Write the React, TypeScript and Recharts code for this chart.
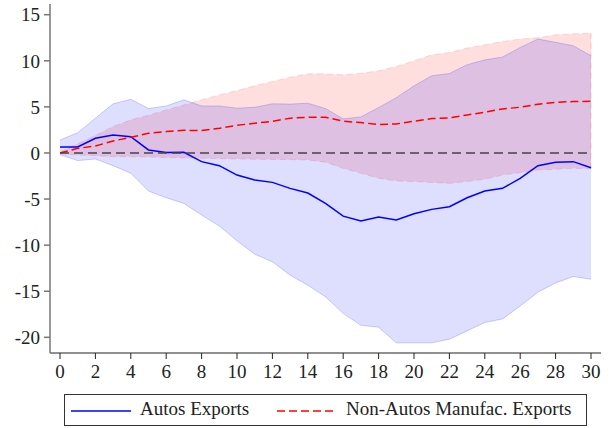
import React from 'react';
import {
  ComposedChart,
  Area,
  Line,
  XAxis,
  YAxis,
  ReferenceLine,
} from 'recharts';

// horizons 0..30
const horizons = Array.from({ length: 31 }, (_, i) => i);

const autosExports = [
  0.65, 0.65, 1.6, 1.96, 1.77, 0.33, 0.04, 0.07, -0.94, -1.38, -2.4, -2.93, -3.19, -3.84, -4.35, -5.47,
  -6.85, -7.39, -6.96, -7.28, -6.6, -6.12, -5.83, -4.86, -4.13, -3.84, -2.75, -1.38, -1.01, -0.94, -1.6,
];
const autosUpper = [
  1.41, 2.2, 3.77, 5.33, 5.83, 4.82, 5.1, 5.76, 5.1, 5.1, 4.86, 4.96, 5.33, 5.3, 5.4, 4.82,
  3.7, 3.91, 4.93, 6.0, 7.28, 8.37, 8.62, 9.57, 10.1, 10.4, 11.45, 12.36, 12.0, 11.63, 10.54,
];
const autosLower = [
  -0.2, -0.83, -0.65, -1.38, -2.2, -4.13, -4.86, -5.47, -6.74, -7.93, -9.53, -10.98, -11.8, -13.26, -14.35, -15.6,
  -17.4, -18.7, -18.9, -20.6, -20.6, -20.6, -20.2, -19.3, -18.4, -18.0, -16.6, -15.1, -14.1, -13.4, -13.7,
];

const nonAutosExports = [
  0, 0.5, 0.75, 1.3, 1.7, 2.14, 2.32, 2.46, 2.43, 2.68, 3.0, 3.22, 3.44, 3.77, 3.88, 3.88,
  3.44, 3.3, 3.08, 3.15, 3.44, 3.73, 3.8, 4.13, 4.42, 4.78, 4.96, 5.29, 5.5, 5.58, 5.61,
];
const nonAutosUpper = [
  0.1, 1.0, 1.9, 2.86, 3.59, 4.1, 4.67, 5.2, 5.76, 6.3, 6.77, 7.28, 7.75, 8.22, 8.59, 8.59,
  8.48, 8.66, 8.91, 9.38, 10.0, 10.65, 10.9, 11.38, 11.74, 12.1, 12.36, 12.5, 12.83, 12.93, 13.0,
];
const nonAutosLower = [
  -0.1, -0.22, -0.3, -0.4, -0.4, -0.45, -0.5, -0.55, -0.58, -0.62, -0.65, -0.68, -0.7, -0.73, -0.76, -1.0,
  -1.67, -2.2, -2.75, -3.04, -3.1, -3.2, -3.3, -3.1, -2.86, -2.4, -2.14, -1.85, -1.78, -1.67, -1.7,
];

const xTicks = [0, 2, 4, 6, 8, 10, 12, 14, 16, 18, 20, 22, 24, 26, 28, 30];
const yTicks = [-20, -15, -10, -5, 0, 5, 10, 15];

const data = horizons.map((h, i) => ({
  h,
  autos: autosExports[i],
  autosBand: [autosLower[i], autosUpper[i]],
  nonAutos: nonAutosExports[i],
  nonAutosBand: [nonAutosLower[i], nonAutosUpper[i]],
}));

const last = horizons.length - 1;

const FONT = 'Liberation Serif, DejaVu Serif, serif';
const tickStyle = { fontFamily: FONT, fontSize: 19, fill: '#222' };

export default function App() {
  return (
    <div style={{ position: 'absolute', left: 0, top: 0, width: 610, height: 428, background: '#fff' }}>
      <ComposedChart
        width={610}
        height={390}
        data={data}
        margin={{ top: 4, right: 9, left: 0, bottom: 0 }}
        style={{ fontFamily: FONT }}
      >
        <XAxis
          dataKey="h"
          type="number"
          domain={[-0.565, 30.565]}
          ticks={xTicks}
          allowDataOverflow
          height={37}
          tickSize={6}
          tickMargin={6}
          stroke="#222"
          tick={tickStyle}
        />
        <YAxis
          type="number"
          domain={[-21.7, 16.16]}
          ticks={yTicks}
          allowDataOverflow
          width={50}
          tickSize={6}
          tickMargin={4}
          stroke="#777"
          strokeWidth={1.5}
          tick={tickStyle}
        />
        <Area
          type="linear"
          dataKey="nonAutosBand"
          fill="#ff0000"
          fillOpacity={0.13}
          stroke="#ff0000"
          strokeOpacity={0.12}
          strokeDasharray="6 4"
          isAnimationActive={false}
          dot={false}
          activeDot={false}
        />
        <ReferenceLine
          segment={[{ x: horizons[last], y: nonAutosLower[last] }, { x: horizons[last], y: nonAutosUpper[last] }]}
          stroke="#ff0000"
          strokeOpacity={0.2}
          strokeDasharray="6 4"
        />
        <Area
          type="linear"
          dataKey="autosBand"
          fill="#0000ff"
          fillOpacity={0.13}
          stroke="#0000ff"
          strokeOpacity={0.18}
          isAnimationActive={false}
          dot={false}
          activeDot={false}
        />
        <Line
          type="linear"
          dataKey="autos"
          stroke="#0000ff"
          strokeWidth={1.5}
          dot={false}
          isAnimationActive={false}
        />
        <Line
          type="linear"
          dataKey="nonAutos"
          stroke="#ff0000"
          strokeWidth={1.5}
          strokeDasharray="8 4"
          dot={false}
          isAnimationActive={false}
        />
        <ReferenceLine
          segment={[{ x: 0, y: 0 }, { x: 30, y: 0 }]}
          stroke="#444"
          strokeWidth={1.5}
          strokeDasharray="9 5"
        />
      </ComposedChart>
      <div
        style={{
          position: 'absolute',
          left: 64,
          top: 394,
          width: 521,
          height: 30,
          border: '1px solid #333',
          fontFamily: FONT,
          fontSize: 19,
          color: '#222',
        }}
      >
        <svg width={60} height={4} style={{ position: 'absolute', left: 6, top: 14 }}>
          <line x1={0} y1={2} x2={60} y2={2} stroke="#0000ff" strokeWidth={1.5} />
        </svg>
        <span style={{ position: 'absolute', left: 75, top: 3, whiteSpace: 'nowrap' }}>Autos Exports</span>
        <svg width={60} height={4} style={{ position: 'absolute', left: 212, top: 14 }}>
          <line x1={0} y1={2} x2={60} y2={2} stroke="#ff0000" strokeWidth={1.5} strokeDasharray="8 4" />
        </svg>
        <span style={{ position: 'absolute', left: 281, top: 3, whiteSpace: 'nowrap' }}>
          Non-Autos Manufac. Exports
        </span>
      </div>
    </div>
  );
}
